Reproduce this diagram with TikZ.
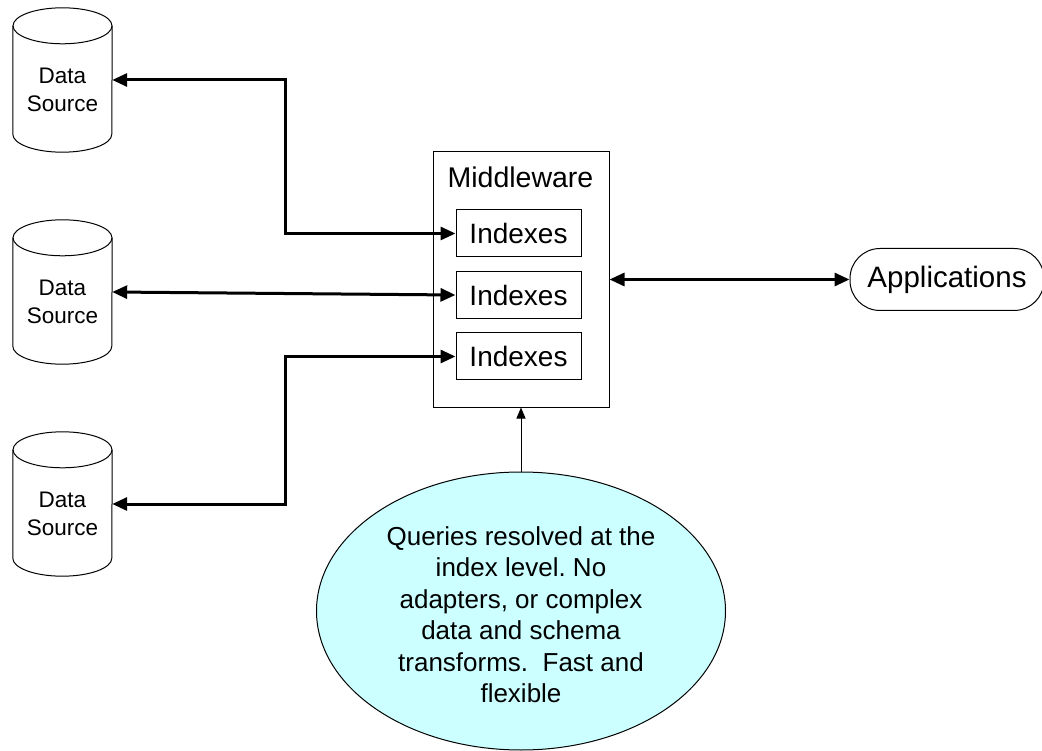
\documentclass[tikz,border=0pt]{standalone}
\usepackage{fontspec}
\setmainfont{Liberation Sans}
\usetikzlibrary{arrows.meta,shapes.geometric,calc}

\definecolor{querycyan}{HTML}{CCFFFF}

\tikzset{
  store/.style={minimum width=99pt, minimum height=144pt, inner sep=0pt},
  storeline/.style={line width=1pt, black},
  storetext/.style={font=\fontsize{22.5}{28}\selectfont, align=center},
  mwbox/.style={draw, line width=1pt, minimum width=176pt, minimum height=255pt, inner sep=0pt},
  idxbox/.style={draw, line width=1pt, minimum width=125pt, minimum height=47pt,
                 inner sep=0pt, font=\fontsize{28}{32}\selectfont},
  appbox/.style={draw, line width=1pt, rounded corners=30pt, minimum width=194pt,
                 minimum height=62pt, inner sep=0pt, font=\fontsize{29.5}{32}\selectfont},
  link/.style={line width=3pt,
               {Triangle[length=15pt,width=13pt]}-{Triangle[length=15pt,width=13pt]}},
  note/.style={ellipse, draw, line width=1pt, fill=querycyan, minimum width=409pt,
               minimum height=278pt, inner sep=0pt},
  notetext/.style={align=center, font=\fontsize{26}{31.5}\selectfont},
  noteline/.style={line width=1pt, -{Triangle[length=11pt,width=9pt]}}
}

% a database cylinder with its label; #1 = node name, #2 = centre depth
\newcommand\drawstore[2]{%
  \node[store] (#1) at (62.5pt,-#2pt) {};
  \draw[storeline, fill=white] ([yshift=-18pt]#1.north west) -- ([yshift=18pt]#1.south west)
     arc[start angle=180, end angle=360, x radius=49.5pt, y radius=18pt]
     -- ([yshift=-18pt]#1.north east);
  \draw[storeline] ([yshift=-18pt]#1.north) ellipse[x radius=49.5pt, y radius=18pt];
  \node[storetext] at ([yshift=-10pt]#1.center) {Data\\Source};
}

\frenchspacing

\begin{document}
\begin{tikzpicture}
\useasboundingbox (0pt,0pt) rectangle (1042pt,-751pt);

% data sources
\drawstore{ds1}{80}
\drawstore{ds2}{292}
\drawstore{ds3}{504}

% middleware with its indexes
\node[mwbox] (mw) at (521pt,-279.5pt) {};
\node[font=\fontsize{28.5}{32}\selectfont] (mwlabel) at (520.5pt,-177pt) {Middleware};
\node[idxbox] (ix1) at (518.5pt,-233.5pt) {Indexes};
\node[idxbox] (ix2) at (518.5pt,-295pt) {Indexes};
\node[idxbox] (ix3) at (518.5pt,-356.5pt) {Indexes};

% applications
\node[appbox] (app) at (947pt,-279.5pt) {Applications};

% explanatory note
\node[note] (q) at (521pt,-611pt) {};
\node[notetext] (qtext) at (521pt,-614.5pt)
  {Queries resolved at the\\index level. No\\adapters, or complex\\data and schema\\transforms.\ \ Fast and\\flexible};

% routing column for the outer links
\coordinate (bend) at (285pt,0pt);

% connectors
\draw[link] (ds1.east) -| (bend |- ix1.west) -- (ix1.west);
\draw[link] (ds2.east) -- (ix2.west);
\draw[link] (ix3.west) -| (bend |- ds3.east) -- (ds3.east);
\draw[link] (mw.east) -- (app.west);
\draw[noteline] (q.north) -- (mw.south);
\end{tikzpicture}
\end{document}
